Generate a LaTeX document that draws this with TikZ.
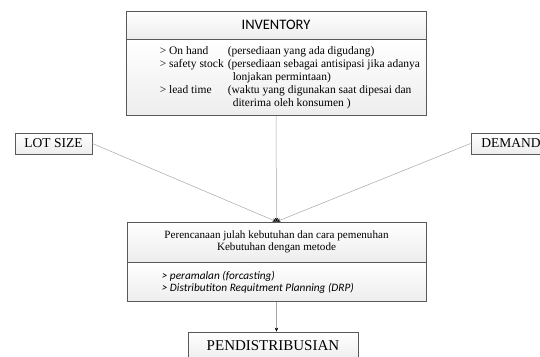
\documentclass[tikz,border=0pt]{standalone}
\usepackage{fontspec}
\setmainfont{Liberation Serif}
\newfontfamily\calibri{Carlito}
\usetikzlibrary{positioning}
\usetikzlibrary{arrows.meta}
\tikzset{
   box/.style = {%
    shape=rectangle,
    draw=black!65,
    line width=0.8pt,
    top color=white,
    bottom color=black!7,
    inner sep=0pt,
    align=center},
   txt/.style = {%
    inner sep=0pt,
    align=left,
    font=\fontsize{11.5}{13}\selectfont},
 arrow/.style = {%
    draw=black!35,
    line width=0.5pt,
    -{Stealth[length=4pt,width=3.5pt,black]}},
    }

\begin{document}
\begin{tikzpicture}[x=1pt,y=1pt]
    \useasboundingbox (0,0) rectangle (540,356);
    % inventory
    \node[box, minimum width=300pt, minimum height=28pt,
          font=\calibri\fontsize{14.5}{16}\selectfont] (invhead) at (276,331) {INVENTORY};
    \node[box, minimum width=300pt, minimum height=76pt, below=0pt of invhead] (invbody) {};
    \node[txt, anchor=west] (invtext) at ([xshift=34pt]invbody.west) {%
        \begin{tabular}{@{}p{68pt}@{}l@{}}
            > On hand      & (persediaan yang ada digudang)\\
            > safety stock & (persediaan sebagai antisipasi jika adanya\\
                           & \hspace{5pt}lonjakan permintaan)\\
            > lead time    & (waktu yang digunakan saat dipesai dan\\
                           & \hspace{5pt}diterima oleh konsumen )
        \end{tabular}};
    % inputs
    \node[box, minimum width=77pt, minimum height=21pt,
          font=\fontsize{13.5}{15}\selectfont] (lot) at (53.5,212.5) {LOT SIZE};
    \node[box, minimum width=80pt, minimum height=21pt,
          font=\fontsize{13.5}{15}\selectfont] (demand) at (511,212.5) {DEMAND};
    % planning
    \node[box, minimum width=299pt, minimum height=40pt,
          font=\fontsize{11.1}{12.5}\selectfont] (plan) at (276.5,114)
          {Perencanaan julah kebutuhan dan cara pemenuhan\\Kebutuhan dengan metode};
    \node[box, minimum width=299pt, minimum height=39pt, below=0pt of plan] (method) {};
    \node[txt, anchor=west, font=\calibri\itshape\fontsize{11.3}{12.5}\selectfont]
          (methodtext) at ([xshift=35pt]method.west) {%
        > peramalan (forcasting)\\
        > Distributiton Requitment Planning (DRP)};
    % output
    \node[box, minimum width=170pt, minimum height=28pt,
          font=\fontsize{15}{17}\selectfont] (distrib) at (273,10) {PENDISTRIBUSIAN};

    \draw[arrow] (lot.east) -- (plan.north);
    \draw[arrow] (demand.west) -- (plan.north);
    \draw[arrow] (invbody.south) -- (plan.north);
    \draw[arrow] (method.south) -- (method.south |- distrib.north);
\end{tikzpicture}
\end{document}
